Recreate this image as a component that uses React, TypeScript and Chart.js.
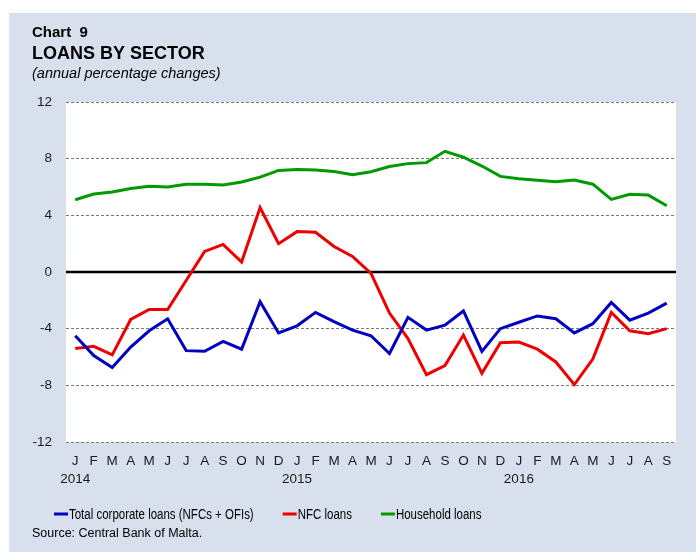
import React, { useEffect, useRef } from "react";
import { Chart, registerables } from "chart.js";

Chart.register(...registerables);

const months: string[] = [
  "J", "F", "M", "A", "M", "J", "J", "A", "S", "O", "N", "D",
  "J", "F", "M", "A", "M", "J", "J", "A", "S", "O", "N", "D",
  "J", "F", "M", "A", "M", "J", "J", "A", "S",
];
const yearLabels: Record<number, string> = { 0: "2014", 12: "2015", 24: "2016" };

const totalCorporate: number[] = [
  -4.5, -5.9, -6.75, -5.3, -4.15, -3.3, -5.55, -5.6, -4.9, -5.45, -2.1, -4.3,
  -3.8, -2.85, -3.5, -4.1, -4.5, -5.75, -3.2, -4.1, -3.75, -2.75, -5.6, -4.0,
  -3.55, -3.1, -3.3, -4.3, -3.65, -2.15, -3.4, -2.9, -2.2,
];
const nfcLoans: number[] = [
  -5.4, -5.25, -5.85, -3.35, -2.65, -2.65, -0.6, 1.45, 1.95, 0.7, 4.55, 2.0,
  2.85, 2.8, 1.8, 1.1, -0.1, -2.9, -4.7, -7.25, -6.6, -4.45, -7.15, -5.0,
  -4.95, -5.45, -6.35, -7.95, -6.15, -2.85, -4.15, -4.35, -4.0,
];
const householdLoans: number[] = [
  5.1, 5.5, 5.65, 5.9, 6.05, 6.0, 6.2, 6.2, 6.15, 6.35, 6.7, 7.17,
  7.24, 7.2, 7.1, 6.87, 7.08, 7.45, 7.65, 7.72, 8.52, 8.1, 7.48, 6.75,
  6.58, 6.47, 6.37, 6.5, 6.2, 5.13, 5.48, 5.43, 4.68,
];

const yTicks = { min: -12, max: 12, step: 4 };

const seriesNames = ["Total corporate loans (NFCs + OFIs)", "NFC loans", "Household loans"];
const seriesColors = ["#0000c0", "#ee0000", "#009a00"];

const FONT = "Arial, 'Liberation Sans', sans-serif";
const PANEL = "#d9e0ed";

export default function App() {
  const ref = useRef<HTMLCanvasElement | null>(null);

  useEffect(() => {
    document.body.style.margin = "0";
    const canvas = ref.current!;
    const labels = months.map((m, i) => (yearLabels[i] ? [m, yearLabels[i]] : m));

    const bgPlugin = {
      id: "bg",
      beforeDraw(chart: any) {
        const { ctx, chartArea } = chart;
        ctx.save();
        ctx.fillStyle = "#ffffff";
        ctx.fillRect(0, 0, chart.width, chart.height);
        ctx.fillStyle = PANEL;
        ctx.fillRect(9, 13, chart.width - 9, chart.height - 13);
        ctx.fillStyle = "#ffffff";
        ctx.fillRect(chartArea.left, chartArea.top, chartArea.right - chartArea.left, chartArea.bottom - chartArea.top);
        ctx.restore();
      },
      beforeDatasetsDraw(chart: any) {
        const { ctx, chartArea } = chart;
        const y0 = chart.scales.y.getPixelForValue(0);
        ctx.save();
        ctx.strokeStyle = "#000000";
        ctx.lineWidth = 2.5;
        ctx.beginPath();
        ctx.moveTo(chartArea.left, y0);
        ctx.lineTo(chartArea.right, y0);
        ctx.stroke();
        ctx.restore();
      },
      afterDraw(chart: any) {
        const { ctx } = chart;
        ctx.save();
        ctx.fillStyle = "#000000";
        ctx.textBaseline = "alphabetic";
        ctx.textAlign = "left";
        ctx.font = `bold 15px ${FONT}`;
        ctx.fillText("Chart  9", 32, 37);
        ctx.font = `bold 18px ${FONT}`;
        ctx.fillText("LOANS BY SECTOR", 32, 59);
        ctx.font = `italic 14.5px ${FONT}`;
        ctx.fillText("(annual percentage changes)", 32, 78);

        // legend (narrow face if present; otherwise horizontal compression)
        const narrow = `14px 'Liberation Sans Narrow', 'Liberation Sans', sans-serif`;
        const regular = `14px 'Liberation Sans', sans-serif`;
        ctx.font = regular;
        const wReg = ctx.measureText("Household loans").width;
        ctx.font = narrow;
        const wNar = ctx.measureText("Household loans").width;
        const hasNarrow = wNar < wReg * 0.95;
        const sx = hasNarrow ? 1 : 0.82;
        ctx.font = hasNarrow ? narrow : regular;
        ctx.textBaseline = "middle";
        let x = 54;
        const ly = 514;
        chart.data.datasets.forEach((ds: any) => {
          ctx.strokeStyle = ds.borderColor;
          ctx.lineWidth = 3;
          ctx.beginPath();
          ctx.moveTo(x, ly);
          ctx.lineTo(x + 14, ly);
          ctx.stroke();
          ctx.fillStyle = "#000000";
          ctx.save();
          ctx.translate(x + 15, ly + 1);
          ctx.scale(sx, 1);
          ctx.fillText(ds.label, 0, 0);
          ctx.restore();
          x += 15 + ctx.measureText(ds.label).width * sx + 29;
        });

        ctx.font = `12.5px ${FONT}`;
        ctx.textBaseline = "alphabetic";
        ctx.fillText("Source: Central Bank of Malta.", 32, 537);
        ctx.restore();
      },
    };

    const chart = new Chart(canvas, {
      type: "line",
      data: {
        labels,
        datasets: [
          { label: seriesNames[0], data: totalCorporate, borderColor: seriesColors[0], borderWidth: 3, pointRadius: 0, tension: 0, fill: false },
          { label: seriesNames[1], data: nfcLoans, borderColor: seriesColors[1], borderWidth: 3, pointRadius: 0, tension: 0, fill: false },
          { label: seriesNames[2], data: householdLoans, borderColor: seriesColors[2], borderWidth: 3, pointRadius: 0, tension: 0, fill: false },
        ],
      },
      options: {
        animation: false,
        responsive: false,
        devicePixelRatio: 1,
        layout: { padding: { left: 0, right: 20, top: 102, bottom: 0 } },
        plugins: { legend: { display: false }, tooltip: { enabled: false }, title: { display: false } },
        scales: {
          x: {
            offset: true,
            grid: { display: false, drawTicks: false },
            border: { display: false },
            ticks: {
              autoSkip: false,
              maxRotation: 0,
              minRotation: 0,
              padding: 10,
              color: "#1a1a1a",
              font: { family: FONT, size: 13.5, lineHeight: 1.35 },
            },
            afterFit(s: any) {
              s.height = 110;
            },
          },
          y: {
            min: yTicks.min,
            max: yTicks.max,
            grid: {
              drawTicks: false,
              color: (c: any) => (c.tick && c.tick.value === 0 ? "rgba(0,0,0,0)" : "#7a7a7a"),
              lineWidth: 1,
            },
            border: { display: false, dash: [3, 2] },
            ticks: {
              stepSize: yTicks.step,
              padding: 14,
              color: "#1a1a1a",
              font: { family: FONT, size: 13.5 },
            },
            afterFit(s: any) {
              s.width = 66;
            },
          },
        },
      },
      plugins: [bgPlugin],
    });

    return () => chart.destroy();
  }, []);

  return <canvas ref={ref} width={696} height={552} style={{ display: "block" }} />;
}
